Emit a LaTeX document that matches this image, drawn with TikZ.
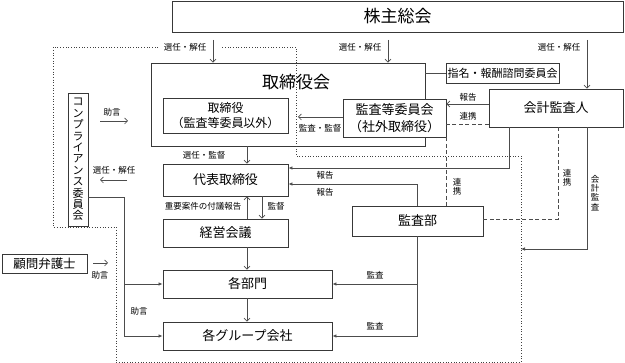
\documentclass[tikz,border=0pt]{standalone}
\usepackage{fontspec}
\setmainfont{Noto Sans CJK JP}
\usetikzlibrary{arrows.meta}
\begin{document}
\begin{tikzpicture}[x=1pt,y=-1pt,
  box/.style={draw=black!78, line width=0.9pt, fill=white, inner sep=0pt, align=center},
  conn/.style={draw=black!70, line width=0.7pt},
  oarr/.style={conn, -{Straight Barb[length=3pt,width=6pt]}},
  farr/.style={conn, -{Latex[length=4pt,width=3.5pt]}},
  lbl/.style={font=\fontsize{8.5}{9}\selectfont, inner sep=1pt},
  vlbl/.style={font=\fontsize{8.5}{9.2}\selectfont, inner sep=0pt, align=center},
  dotl/.style={draw=black!75, line width=0.7pt, dotted},
  dashl/.style={conn, dash pattern=on 4pt off 2.5pt},
  big/.style={font=\fontsize{17}{20}\selectfont},
  mid/.style={font=\fontsize{13}{16}\selectfont},
]
\useasboundingbox (0,0) rectangle (625,363);

% boxes
\node[box, big, minimum width=451pt, minimum height=31pt] (kabu) at (397.5,16.5) {株主総会};
\node[box, minimum width=274pt, minimum height=83pt] (torikai) at (288,104.5) {};
\node[big, inner sep=0pt] (torititle) at (296,82) {取締役会};
\node[box, font=\fontsize{11}{13}\selectfont, minimum width=113pt, minimum height=20pt] (shimei) at (502.5,73) {指名・報酬諮問委員会};
\node[box, mid, minimum width=134pt, minimum height=38pt] (kaikei) at (556,108) {会計監査人};
\node[box, font=\fontsize{12}{15}\selectfont, minimum width=125pt, minimum height=35pt] (tori) at (225.5,115.5) {取締役\\（監査等委員以外）};
\node[box, font=\fontsize{13}{16.5}\selectfont, minimum width=103pt, minimum height=38pt] (kansatou) at (394.5,118) {監査等委員会\\（社外取締役）};
\node[box, mid, minimum width=125pt, minimum height=32pt] (daihyo) at (225.5,180) {代表取締役};
\node[box, mid, minimum width=125pt, minimum height=28pt] (keiei) at (225.5,233) {経営会議};
\node[box, mid, minimum width=169pt, minimum height=28pt] (kakubu) at (247.5,284) {各部門};
\node[box, mid, minimum width=169pt, minimum height=28pt] (group) at (247.5,336) {各グループ会社};
\node[box, mid, minimum width=131pt, minimum height=30pt] (kansabu) at (417.5,221) {監査部};
\node[box, font=\fontsize{11}{11.4}\selectfont, minimum width=20pt, minimum height=133pt] (comp) at (78,159.5) {コ\\ン\\プ\\ラ\\イ\\ア\\ン\\ス\\委\\員\\会};
\node[box, font=\fontsize{12.5}{15}\selectfont, minimum width=85pt, minimum height=19pt] (komon) at (44.5,263.5) {顧問弁護士};

% free coordinates
\coordinate (s1) at (213,40);
\coordinate (s2) at (388,40);
\coordinate (s3) at (587,40);
\coordinate (kkend) at (298,117);
\coordinate (jo1a) at (100,121);
\coordinate (jo1b) at (128,121);
\coordinate (se1a) at (127,180);
\coordinate (se1b) at (100,180);
\coordinate (jo2a) at (93,263);
\coordinate (jo2b) at (108,263);
\coordinate (dotend) at (521,249);

% open arrows
\draw[oarr] (s1) -- (s1 |- torikai.north);
\draw[oarr] (s2) -- (s2 |- torikai.north);
\draw[oarr] (s3) -- (s3 |- kaikei.north);
\draw[oarr] (kaikei.west |- 0,104) -- (kansatou.east |- 0,104);
\draw[oarr] (kansatou.west |- kkend) -- (kkend);
\draw[oarr] (jo1a) -- (jo1b);
\draw[oarr] (se1a) -- (se1b);
\draw[oarr] (jo2a) -- (jo2b);
\draw[oarr] (247,0 |- torikai.south) -- (247,0 |- daihyo.north);
\draw[oarr] (247,0 |- keiei.north) -- (247,0 |- daihyo.south);
\draw[oarr] (262,0 |- daihyo.south) -- (262,0 |- keiei.north);
\draw[oarr] (247,0 |- keiei.south) -- (247,0 |- kakubu.north);
\draw[oarr] (247,0 |- kakubu.south) -- (247,0 |- group.north);

% solid lines
\draw[conn] (torikai.east |- shimei.west) -- (shimei.west);
\draw[farr] (509,0 |- kaikei.south) -- (509,168) -- (daihyo.east |- 0,168);
\draw[farr] (417.5,0 |- kansabu.north) -- (417.5,184) -- (daihyo.east |- 0,184);
\draw[farr] (kansabu.south) -- (kansabu.south |- group.east) -- (group.east);
\draw[farr] (kansabu.south |- kakubu.east) -- (kakubu.east);
\draw[farr] (comp.east |- 0,197) -- (124,197) -- (124,0 |- group.west) -- (group.west);
\draw[farr] (124,0 |- kakubu.west) -- (kakubu.west);
\draw[farr] (587,0 |- kaikei.south) -- (587,249) -- (dotend);

% dashed lines
\draw[dashl] (kaikei.west |- 0,124) -- (kansatou.east |- 0,124);
\draw[dashl] (kansatou.south east) -- (kansatou.south east |- kansabu.north);
\draw[dashl] (558,0 |- kaikei.south) -- (558,219) -- (kansabu.east |- 0,219);

% dotted outline
\draw[dotl] (158,47) -- (53,47) -- (53,227) -- (116,227) -- (116,362) -- (521,362) -- (521,156) -- (296,156) -- (296,47) -- (222,47);

% labels
\node[lbl] (l1) at (185,47) {選任・解任};
\node[lbl] (l2) at (360,47) {選任・解任};
\node[lbl] (l3) at (559,47) {選任・解任};
\node[lbl] (l4) at (468,97) {報告};
\node[lbl] (l5) at (468,116) {連携};
\node[lbl] (l6) at (320,128) {監査・監督};
\node[lbl] (l7) at (112,112) {助言};
\node[lbl] (l8) at (114,170) {選任・解任};
\node[lbl] (l9) at (204,155) {選任・監督};
\node[lbl] (l10) at (325,175) {報告};
\node[lbl] (l11) at (325,192) {報告};
\node[lbl] (l12) at (203,206) {重要案件の付議報告};
\node[lbl] (l13) at (276,206) {監督};
\node[lbl] (l14) at (375,275) {監査};
\node[lbl] (l15) at (375,326) {監査};
\node[lbl] (l16) at (139,311) {助言};
\node[lbl] (l17) at (100,275) {助言};
\node[vlbl] (v1) at (457,187) {連\\携};
\node[vlbl] (v2) at (567,178) {連\\携};
\node[vlbl] (v3) at (595,193) {会\\計\\監\\査};
\end{tikzpicture}
\end{document}
